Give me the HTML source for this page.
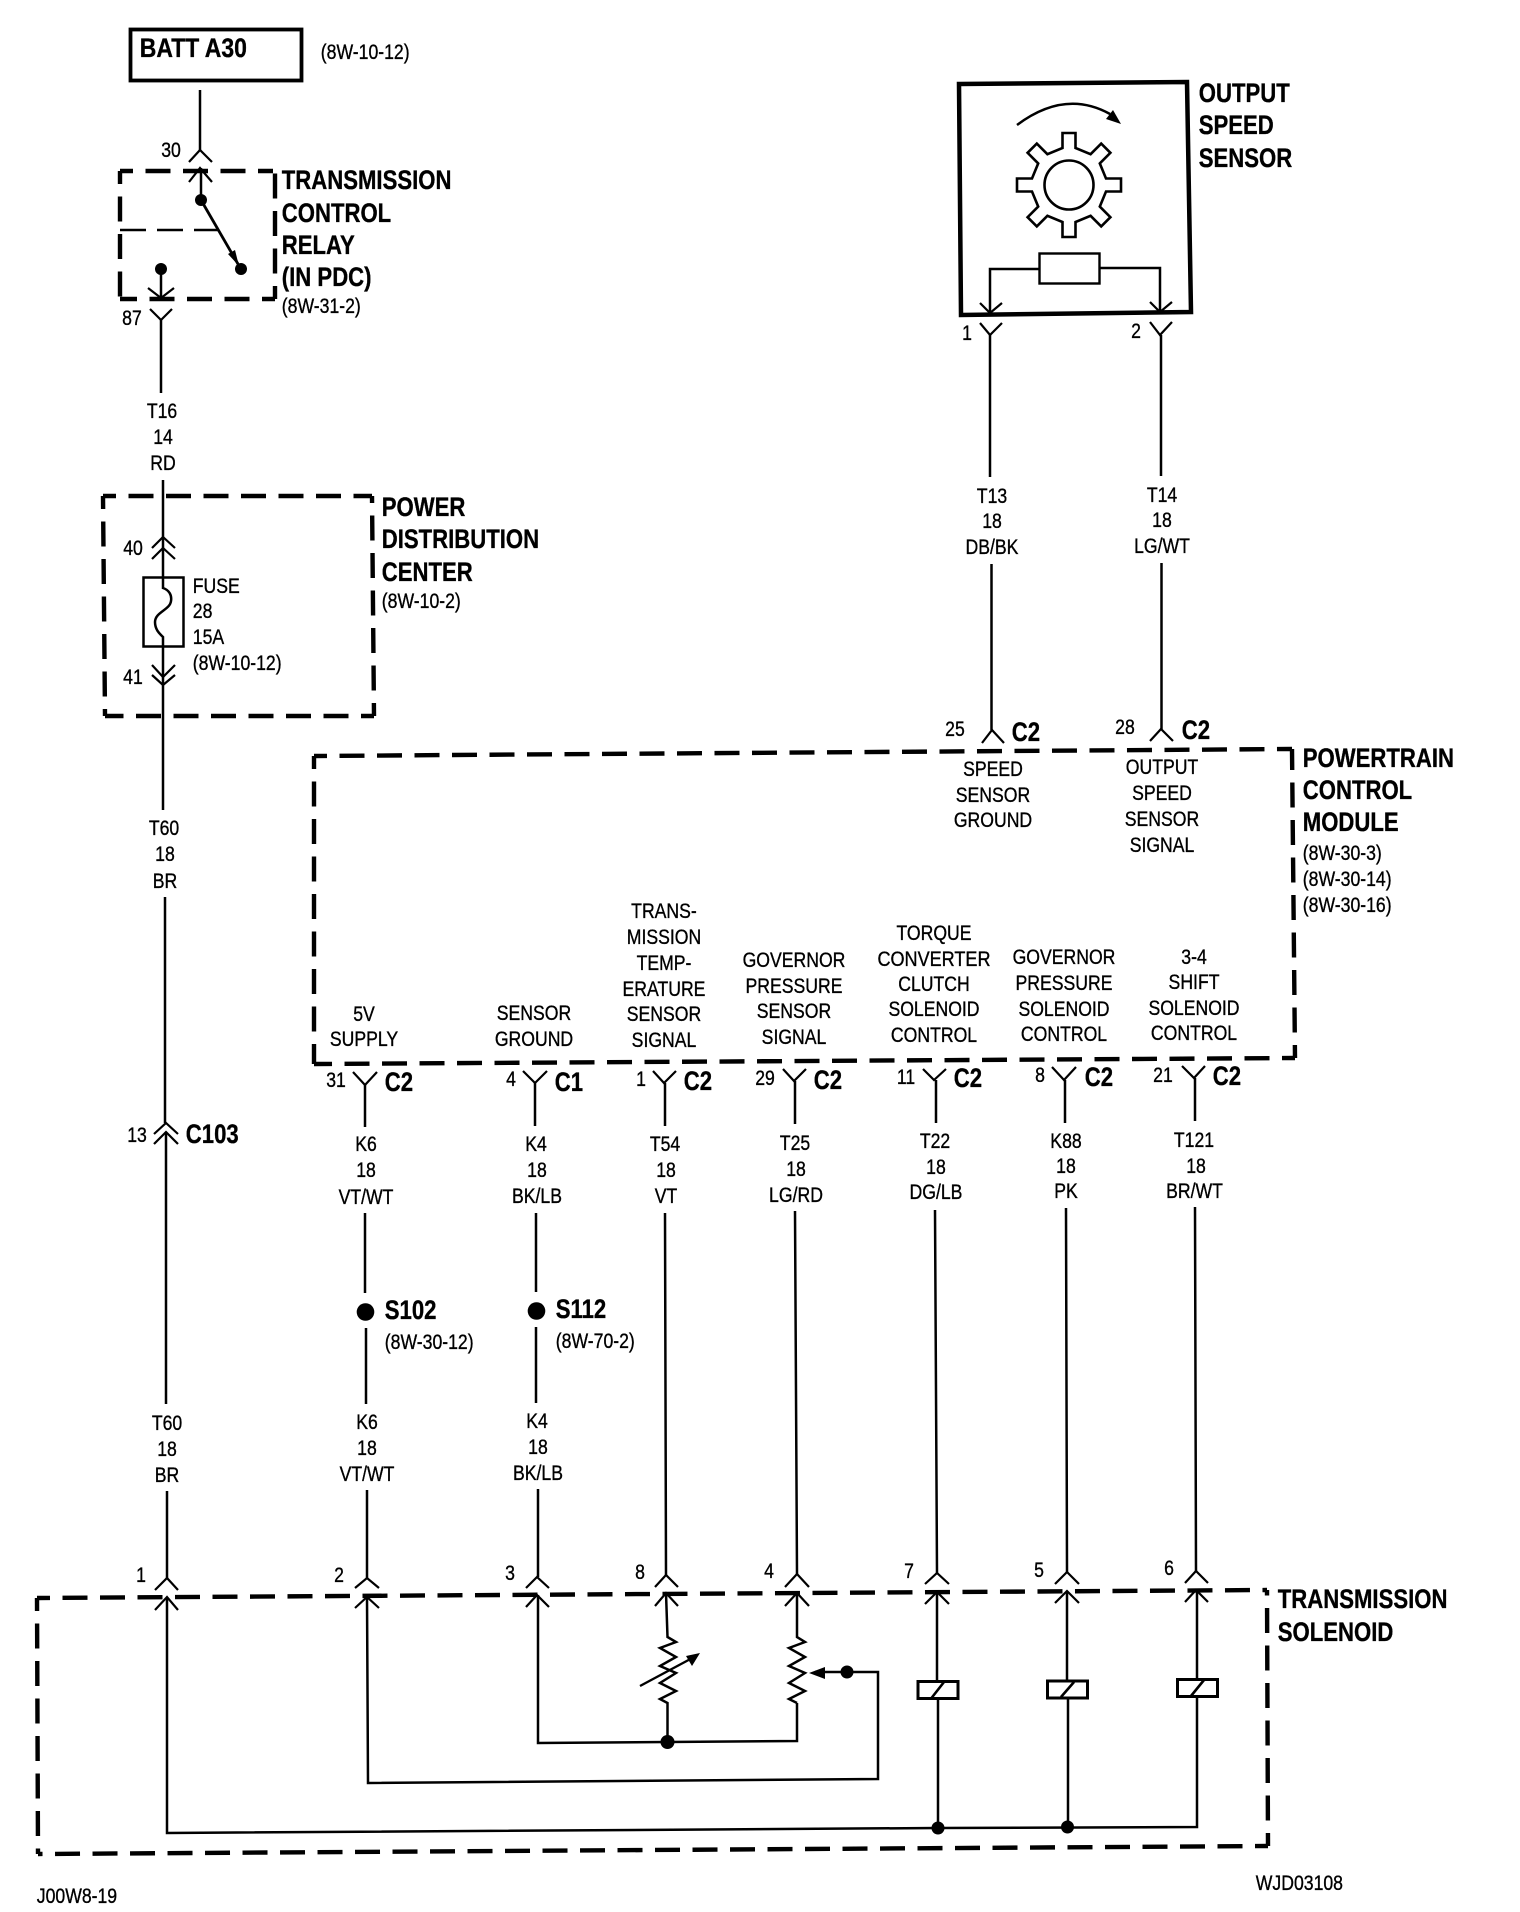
<!DOCTYPE html>
<html><head><meta charset="utf-8"><style>
html,body{margin:0;padding:0;background:#fff}
svg{display:block}
text{font-family:"Liberation Sans",sans-serif;fill:#000;transform-box:fill-box;stroke:#000;stroke-width:.35}
.r{font-size:21px;transform:scaleX(.84);transform-origin:50% 50%;text-anchor:middle}
.l{font-size:21px;transform:translateX(-1.2px) scaleX(.84);transform-origin:0 50%;text-anchor:start}
.b{font-size:27px;font-weight:bold;transform:translateX(-1.2px) scaleX(.82);transform-origin:0 50%;text-anchor:start}
.w{fill:none;stroke:#000;stroke-width:2.5}
.c{fill:none;stroke:#000;stroke-width:2.2}
.d{fill:none;stroke:#000;stroke-width:4.4;stroke-dasharray:25 12.5;stroke-dashoffset:12}
</style></head><body>
<svg width="1520" height="1912" viewBox="0 0 1520 1912" xmlns="http://www.w3.org/2000/svg">
<rect width="1520" height="1912" fill="#fff"/>

<!-- BATT -->
<rect x="130.500" y="29.500" width="171" height="51" fill="none" stroke="#000" stroke-width="3.800"/>
<text class="b" x="141" y="57" style="transform:translateX(-1.2px) scaleX(.85)">BATT A30</text>
<text class="l" x="322" y="59">(8W-10-12)</text>
<path class="w" d="M200 90V150"/>
<path class="c" d="M189 162L200 150L212 162"/>
<text class="r" x="171" y="157">30</text>

<!-- Relay -->
<path class="d" d="M120 171H273"/><path class="d" d="M120 171V299"/>
<path class="d" d="M275 299H120"/><path class="d" d="M275 299V171"/>
<path d="M120 230H218" fill="none" stroke="#000" stroke-width="2.500" stroke-dasharray="26 11"/>
<path class="c" d="M189 182L200 168L212 182"/>
<path class="w" d="M201 168V200"/>
<circle cx="201" cy="200" r="6"/>
<path d="M201 200L238 264" stroke="#000" stroke-width="2.800" fill="none"/>
<polygon points="239,266 228,254 235,250"/>
<circle cx="241" cy="269" r="6"/>
<circle cx="161" cy="269" r="6"/>
<path class="w" d="M161 269V298"/>
<path class="c" d="M148 288L161 298L174 288"/>
<path class="c" d="M150 309L161 320L172 309"/>
<path class="w" d="M161 320V393"/>
<text class="r" x="132" y="325">87</text>
<text class="b" x="283" y="189">TRANSMISSION</text>
<text class="b" x="283" y="222">CONTROL</text>
<text class="b" x="283" y="254">RELAY</text>
<text class="b" x="283" y="286">(IN PDC)</text>
<text class="l" x="283" y="313">(8W-31-2)</text>
<text class="r" x="162" y="418">T16</text>
<text class="r" x="163" y="444">14</text>
<text class="r" x="163" y="470">RD</text>

<!-- PDC -->
<path class="d" d="M103 496H372"/><path class="d" d="M103 496L105 716"/>
<path class="d" d="M374 716H105"/><path class="d" d="M374 716L372 496"/>
<path class="w" d="M163 480V577M163 647V810"/>
<path class="c" d="M152 548L163 537L175 548M152 559L163 548L175 559"/>
<rect x="143.500" y="577.500" width="40" height="69" fill="none" stroke="#000" stroke-width="2.500"/>
<path class="w" d="M163 577V588C169 590 172 595 171 601C170 610 155 612 155 622C155 630 160 634 163 637V647"/>
<path class="c" d="M152 665L163 677L175 665M152 675L163 685L175 675"/>
<text class="r" x="133" y="555">40</text>
<text class="r" x="133" y="684">41</text>
<text class="l" x="194" y="593">FUSE</text>
<text class="l" x="194" y="618">28</text>
<text class="l" x="194" y="644">15A</text>
<text class="l" x="194" y="670">(8W-10-12)</text>
<text class="b" x="383" y="516">POWER</text>
<text class="b" x="383" y="548">DISTRIBUTION</text>
<text class="b" x="383" y="581">CENTER</text>
<text class="l" x="383" y="608">(8W-10-2)</text>

<!-- T60 -->
<text class="r" x="164" y="835">T60</text>
<text class="r" x="165" y="861">18</text>
<text class="r" x="165" y="888">BR</text>
<path class="w" d="M165 897V1123"/>
<path class="c" d="M154 1134L166 1123L178 1134M154 1144L166 1132L178 1144"/>
<path class="w" d="M166 1132V1404"/>
<text class="r" x="137" y="1142">13</text>
<text class="b" x="187" y="1143">C103</text>
<text class="r" x="167" y="1430">T60</text>
<text class="r" x="167" y="1456">18</text>
<text class="r" x="167" y="1482">BR</text>
<path class="w" d="M167 1491V1578"/>

<!-- Output speed sensor -->
<polygon points="959,84 1187,82 1191,312 961,315" fill="none" stroke="#000" stroke-width="4.500"/>
<path class="w" d="M1017 125Q1065 89 1110 114"/>
<polygon points="1121,124 1106,119 1113,110"/>
<g transform="translate(1069,185)">
<polygon fill="none" stroke="#000" stroke-width="2.600" points="-6.500,-37 -6.500,-52 6.500,-52 6.500,-37 21.600,-30.800 32.200,-41.400 41.400,-32.200 30.800,-21.600 37,-6.500 52,-6.500 52,6.500 37,6.500 30.800,21.600 41.400,32.200 32.200,41.400 21.600,30.800 6.500,37 6.500,52 -6.500,52 -6.500,37 -21.600,30.800 -32.200,41.400 -41.400,32.200 -30.800,21.600 -37,6.500 -52,6.500 -52,-6.500 -37,-6.500 -30.800,-21.600 -41.400,-32.200 -32.200,-41.400 -21.600,-30.800"/>
<circle r="24.500" fill="none" stroke="#000" stroke-width="2.600"/>
</g>
<rect x="1039.500" y="253.500" width="60" height="30" fill="none" stroke="#000" stroke-width="2.400"/>
<path class="w" d="M1039 269H990V313M1100 268H1160V312"/>
<path class="c" d="M980 303L990 313L1002 303M1150 302L1160 312L1172 302"/>
<path class="c" d="M980 323L990 335L1002 323M1150 322L1160 335L1172 322"/>
<path class="w" d="M990 335V477M1161 335V476"/>
<text class="r" x="967" y="340">1</text>
<text class="r" x="1136" y="338">2</text>
<text class="b" x="1200" y="102">OUTPUT</text>
<text class="b" x="1200" y="134">SPEED</text>
<text class="b" x="1200" y="167">SENSOR</text>

<text class="r" x="992" y="503">T13</text>
<text class="r" x="992" y="528">18</text>
<text class="r" x="992" y="554">DB/BK</text>
<text class="r" x="1162" y="502">T14</text>
<text class="r" x="1162" y="527">18</text>
<text class="r" x="1162" y="553">LG/WT</text>
<path class="w" d="M991.500 564V730M1161.500 563V729"/>
<path class="c" d="M982 743L992 730L1004 743M1150 741L1161 729L1173 741"/>
<text class="r" x="955" y="736">25</text>
<text class="b" x="1013" y="741">C2</text>
<text class="r" x="1125" y="734">28</text>
<text class="b" x="1183" y="739">C2</text>

<!-- PCM -->
<path class="d" d="M314 756L1292 749"/><path class="d" d="M314 756V1064"/>
<path class="d" d="M1295 1058L314 1064"/><path class="d" d="M1295 1058L1292 749"/>
<text class="r" x="993" y="776">SPEED</text>
<text class="r" x="993" y="802">SENSOR</text>
<text class="r" x="993" y="827">GROUND</text>
<text class="r" x="1162" y="774">OUTPUT</text>
<text class="r" x="1162" y="800">SPEED</text>
<text class="r" x="1162" y="826">SENSOR</text>
<text class="r" x="1162" y="852">SIGNAL</text>
<text class="b" x="1304" y="767">POWERTRAIN</text>
<text class="b" x="1304" y="799">CONTROL</text>
<text class="b" x="1304" y="831">MODULE</text>
<text class="l" x="1304" y="860">(8W-30-3)</text>
<text class="l" x="1304" y="886">(8W-30-14)</text>
<text class="l" x="1304" y="912">(8W-30-16)</text>

<text class="r" x="364" y="1021">5V</text>
<text class="r" x="364" y="1046">SUPPLY</text>
<text class="r" x="534" y="1020">SENSOR</text>
<text class="r" x="534" y="1046">GROUND</text>
<text class="r" x="664" y="918">TRANS-</text>
<text class="r" x="664" y="944">MISSION</text>
<text class="r" x="664" y="970">TEMP-</text>
<text class="r" x="664" y="996">ERATURE</text>
<text class="r" x="664" y="1021">SENSOR</text>
<text class="r" x="664" y="1047">SIGNAL</text>
<text class="r" x="794" y="967">GOVERNOR</text>
<text class="r" x="794" y="993">PRESSURE</text>
<text class="r" x="794" y="1018">SENSOR</text>
<text class="r" x="794" y="1044">SIGNAL</text>
<text class="r" x="934" y="940">TORQUE</text>
<text class="r" x="934" y="966" style="transform:scaleX(.86)">CONVERTER</text>
<text class="r" x="934" y="991">CLUTCH</text>
<text class="r" x="934" y="1016">SOLENOID</text>
<text class="r" x="934" y="1042">CONTROL</text>
<text class="r" x="1064" y="964">GOVERNOR</text>
<text class="r" x="1064" y="990">PRESSURE</text>
<text class="r" x="1064" y="1016">SOLENOID</text>
<text class="r" x="1064" y="1041">CONTROL</text>
<text class="r" x="1194" y="964">3-4</text>
<text class="r" x="1194" y="989">SHIFT</text>
<text class="r" x="1194" y="1015">SOLENOID</text>
<text class="r" x="1194" y="1040">CONTROL</text>

<!-- PCM bottom connectors -->
<path class="c" d="M353 1072L365 1085L377 1072M523 1071L535 1083L547 1071M653 1071L664 1083L676 1071M783 1069L794 1081L806 1069M923 1069L934 1080L946 1069M1052 1067L1064 1080L1076 1067M1182 1066L1194 1078L1205 1066"/>
<path class="w" d="M365 1085V1127M535 1083V1126M665 1083V1126M795 1081V1124M936 1080V1123M1065 1080V1123M1195 1078V1121"/>
<text class="r" x="336" y="1087">31</text><text class="b" x="386" y="1091">C2</text>
<text class="r" x="511" y="1086">4</text><text class="b" x="556" y="1091">C1</text>
<text class="r" x="641" y="1086">1</text><text class="b" x="685" y="1090">C2</text>
<text class="r" x="765" y="1085">29</text><text class="b" x="815" y="1089">C2</text>
<text class="r" x="906" y="1084">11</text><text class="b" x="955" y="1087">C2</text>
<text class="r" x="1040" y="1082">8</text><text class="b" x="1086" y="1086">C2</text>
<text class="r" x="1163" y="1082">21</text><text class="b" x="1214" y="1085">C2</text>

<text class="r" x="366" y="1151">K6</text><text class="r" x="366" y="1177">18</text><text class="r" x="366" y="1204">VT/WT</text>
<text class="r" x="536" y="1151">K4</text><text class="r" x="537" y="1177">18</text><text class="r" x="537" y="1203">BK/LB</text>
<text class="r" x="665" y="1151">T54</text><text class="r" x="666" y="1177">18</text><text class="r" x="666" y="1203">VT</text>
<text class="r" x="795" y="1150">T25</text><text class="r" x="796" y="1176">18</text><text class="r" x="796" y="1202">LG/RD</text>
<text class="r" x="935" y="1148">T22</text><text class="r" x="936" y="1174">18</text><text class="r" x="936" y="1199">DG/LB</text>
<text class="r" x="1066" y="1148">K88</text><text class="r" x="1066" y="1173">18</text><text class="r" x="1066" y="1198">PK</text>
<text class="r" x="1194" y="1147">T121</text><text class="r" x="1196" y="1173">18</text><text class="r" x="1194.500" y="1198">BR/WT</text>

<!-- Splices -->
<path class="w" d="M365 1213V1293M366 1328V1404M536 1213V1292M536 1327V1403"/>
<circle cx="365.500" cy="1312" r="8.800"/><circle cx="536.500" cy="1311" r="8.800"/>
<text class="b" x="386" y="1319">S102</text>
<text class="l" x="386" y="1349">(8W-30-12)</text>
<text class="b" x="557" y="1318">S112</text>
<text class="l" x="557" y="1348">(8W-70-2)</text>
<text class="r" x="367" y="1429">K6</text><text class="r" x="367" y="1455">18</text><text class="r" x="367" y="1481">VT/WT</text>
<text class="r" x="537" y="1428">K4</text><text class="r" x="538" y="1454">18</text><text class="r" x="538" y="1480">BK/LB</text>

<!-- Long wires -->
<path class="w" d="M367 1490V1578M538 1489V1577M665 1213L666 1575M795 1211L797 1574M935 1210L937 1573M1066 1208L1067 1572M1195 1207L1196 1571"/>

<!-- Transmission solenoid box -->
<path class="d" d="M37 1598L1267 1590"/><path class="d" d="M37 1598L38 1854"/>
<path class="d" d="M1268 1846L38 1854"/><path class="d" d="M1268 1846L1267 1590"/>
<text class="b" x="1279" y="1608">TRANSMISSION</text>
<text class="b" x="1279" y="1641">SOLENOID</text>

<!-- Connector chevrons -->
<path class="c" d="M155 1590L167 1578L178 1590M155 1610L167 1597L178 1610"/>
<path class="c" d="M355 1588L367 1578L379 1588M355 1608L367 1597L379 1608"/>
<path class="c" d="M526 1588L537 1577L549 1588M526 1607L537 1595L549 1607"/>
<path class="c" d="M655 1587L666 1575L678 1587M655 1606L666 1593L678 1606"/>
<path class="c" d="M785 1587L797 1574L809 1587M785 1606L797 1593L809 1606"/>
<path class="c" d="M925 1584L937 1573L949 1584M925 1604L937 1592L949 1604"/>
<path class="c" d="M1055 1584L1067 1572L1079 1584M1055 1603L1067 1591L1079 1603"/>
<path class="c" d="M1185 1583L1196 1571L1208 1583M1185 1602L1196 1590L1208 1602"/>
<text class="r" x="141" y="1582">1</text>
<text class="r" x="339" y="1582">2</text>
<text class="r" x="510" y="1580">3</text>
<text class="r" x="640" y="1579">8</text>
<text class="r" x="769" y="1578">4</text>
<text class="r" x="909" y="1578">7</text>
<text class="r" x="1039" y="1577">5</text>
<text class="r" x="1169" y="1575">6</text>

<!-- Solenoid internal wiring -->
<path class="w" d="M167 1597V1833L938 1828L1197 1827V1590"/>
<path class="w" d="M367 1597L368 1783L878 1779V1672H815"/>
<circle cx="847" cy="1672" r="6.500"/>
<polygon points="809,1673 825,1667 825,1679"/>
<path class="w" d="M538 1595V1743L667 1742L797 1741V1703"/>
<circle cx="667.500" cy="1742" r="7"/>
<path class="w" d="M666 1593L667.500 1637L676 1642L660 1648L676 1657L660 1666L676 1673L660 1683L676 1691L660 1699L667.500 1703V1742"/>
<path d="M640 1686L696 1656" stroke="#000" stroke-width="2.400" fill="none"/>
<polygon points="700,1653 686,1656 692,1666"/>
<path class="w" d="M797 1593V1637L805 1642L789 1648L805 1657L789 1666L805 1673L789 1683L805 1691L789 1699L797 1703"/>

<!-- Coils -->
<path class="w" d="M937 1592V1681M938 1699V1828M1067 1591V1681M1068 1698V1827"/>
<rect x="918" y="1681.500" width="40" height="17" fill="#fff" stroke="#000" stroke-width="3"/>
<path d="M931.500 1698L944 1682" stroke="#000" stroke-width="2.600"/>
<rect x="1047.500" y="1681" width="40" height="17" fill="#fff" stroke="#000" stroke-width="3"/>
<path d="M1061 1697L1074 1682" stroke="#000" stroke-width="2.600"/>
<rect x="1177.500" y="1679.500" width="40" height="17" fill="#fff" stroke="#000" stroke-width="3"/>
<path d="M1191 1696L1204 1680" stroke="#000" stroke-width="2.600"/>
<circle cx="938" cy="1828" r="6.500"/><circle cx="1067.500" cy="1827" r="6.500"/>

<text class="l" x="38" y="1903">J00W8-19</text>
<text class="l" x="1257" y="1890">WJD03108</text>
</svg>
</body></html>
